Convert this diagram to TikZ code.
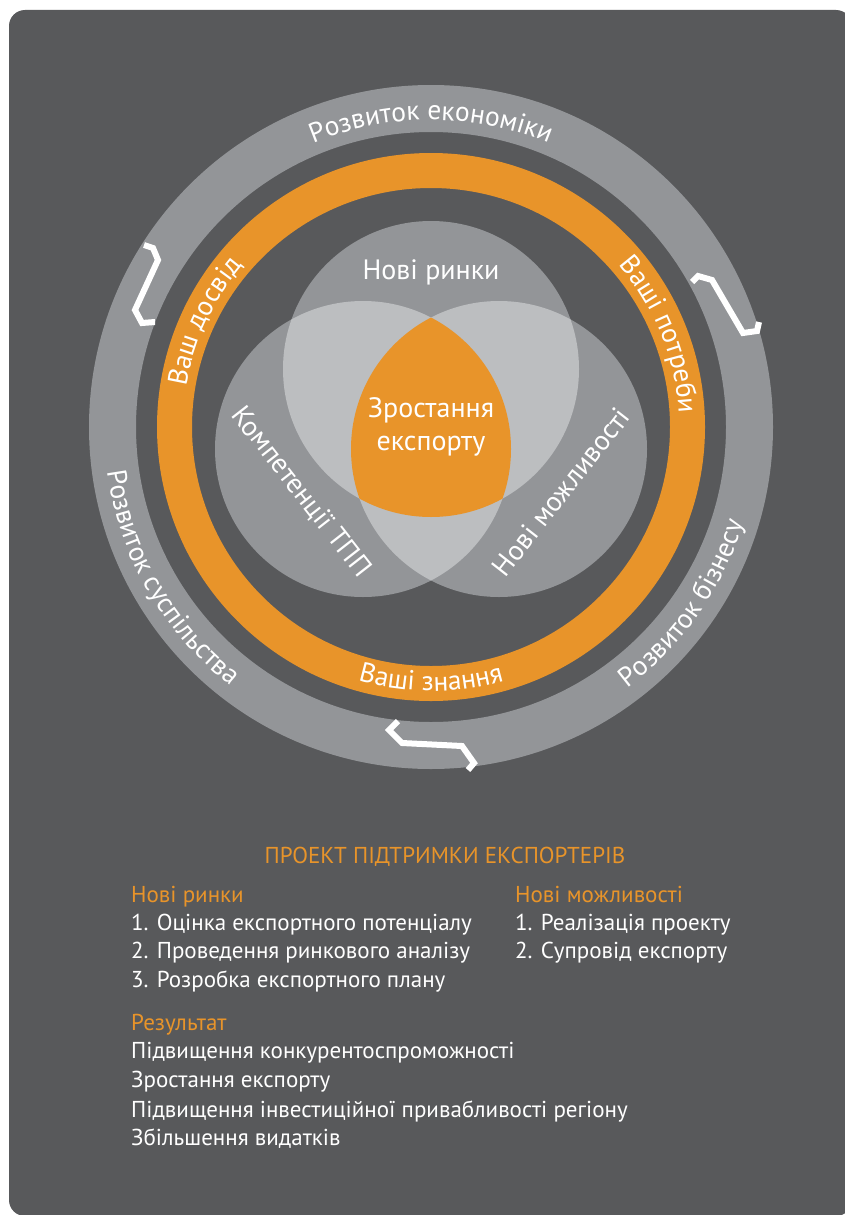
\documentclass[tikz,border=0pt]{standalone}
\usepackage{fontspec}
\setmainfont{PT Sans}
\usetikzlibrary{decorations.text}

\definecolor{bgdark}{HTML}{58595B}
\definecolor{ringgrey}{HTML}{939598}
\definecolor{lightgrey}{HTML}{BCBEC0}
\definecolor{exporange}{HTML}{E8942A}

\newcommand{\ringfont}{\fontsize{27.5}{27.5}\selectfont\color{white}}
\newcommand{\listfont}{\fontsize{23}{23}\selectfont}

\tikzset{
  ringtext/.style={decorate, decoration={text along path, text align=center, text={|\ringfont|#1}}},
  zigzag/.style={white, line width=6pt, line join=miter},
  venntext/.style={text=white, font=\fontsize{28}{28}\selectfont, inner sep=0pt},
  listline/.style={anchor=base west, text=white, font=\listfont, inner sep=0pt},
  listhead/.style={listline, text=exporange},
}

\begin{document}
\begin{tikzpicture}[x=1pt, y=1pt]

\useasboundingbox (0,0) rectangle (844,-1215);
\fill[white] (0,0) rectangle (844,-1215);
\fill[bgdark, rounded corners=16pt] (9,-10) rectangle (852,-1216);

\coordinate (ctr) at (431,-427);
\coordinate (vtop) at (431,-369);
\coordinate (vleft) at (363,-449);
\coordinate (vright) at (499,-449);

% rings
\fill[ringgrey, even odd rule] (ctr) circle (342) (ctr) circle (295);
\fill[exporange, even odd rule] (ctr) circle (274) (ctr) circle (239);

% venn
\fill[ringgrey] (vtop) circle (148);
\fill[ringgrey] (vleft) circle (148);
\fill[ringgrey] (vright) circle (148);
\begin{scope}
\clip (vtop) circle (148);
\fill[lightgrey] (vleft) circle (148);
\fill[lightgrey] (vright) circle (148);
\end{scope}
\begin{scope}
\clip (vleft) circle (148);
\fill[lightgrey] (vright) circle (148);
\end{scope}
\begin{scope}
\clip (vtop) circle (148);
\clip (vleft) circle (148);
\fill[exporange] (vright) circle (148);
\end{scope}

% ring labels
\path[ringtext=Розвиток економіки] (ctr) ++(150:307) arc[start angle=150, end angle=30, radius=307];
\path[ringtext=Розвиток суспільства] (ctr) ++(155:327) arc[start angle=155, end angle=265, radius=327];
\path[ringtext=Розвиток бізнесу] (ctr) ++(-85:327) arc[start angle=-85, end angle=15, radius=327];
\path[ringtext=Ваш досвід] (ctr) ++(200:248) arc[start angle=200, end angle=110, radius=248];
\path[ringtext=Ваші потреби] (ctr) ++(67:248) arc[start angle=67, end angle=-23, radius=248];
\path[ringtext=Ваші знання] (ctr) ++(225:264) arc[start angle=225, end angle=315, radius=264];

% zigzags
\draw[zigzag] (144,-245) -- (153,-248) -- (158,-260) -- (135,-310) -- (142,-323) -- (155,-322);
\draw[zigzag] (692,-282) -- (698,-276) -- (712,-280) -- (743,-333) -- (757,-331) -- (759,-322);
\draw[zigzag] (398,-721) -- (389,-730) -- (402,-743) -- (462,-746) -- (474,-763) -- (468,-770);

% venn labels
\node[venntext] (markets) at (431,-272) {Нові ринки};
\node[venntext, align=center] (growth) at (431,-427) {Зростання\\[5pt]експорту};
\node[venntext, rotate=-52] (skills) at (301,-492) {Компетенції ТПП};
\node[venntext, rotate=52] (chances) at (561,-492) {Нові можливості};

% list
\node[anchor=base, text=exporange, font=\listfont, inner sep=0pt] (title) at (445,-863) {ПРОЕКТ ПІДТРИМКИ ЕКСПОРТЕРІВ};

\node[listhead] (mhead) at (131,-902) {Нові ринки};
\node[listline] (m1) at (131,-930) {1. Оцінка експортного потенціалу};
\node[listline] (m2) at (131,-958) {2. Проведення ринкового аналізу};
\node[listline] (m3) at (131,-987) {3. Розробка експортного плану};

\node[listhead] (ohead) at (515,-902) {Нові можливості};
\node[listline] (o1) at (515,-930) {1. Реалізація проекту};
\node[listline] (o2) at (515,-958) {2. Супровід експорту};

\node[listhead] (rhead) at (131,-1030) {Результат};
\node[listline] (r1) at (131,-1058) {Підвищення конкурентоспроможності};
\node[listline] (r2) at (131,-1087) {Зростання експорту};
\node[listline] (r3) at (131,-1117) {Підвищення інвестиційної привабливості регіону};
\node[listline] (r4) at (131,-1145) {Збільшення видатків};

\end{tikzpicture}
\end{document}
